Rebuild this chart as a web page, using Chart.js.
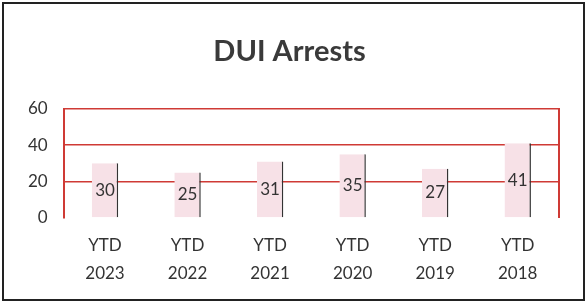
<!DOCTYPE html>
<html>
<head>
<meta charset="utf-8">
<script src="https://cdn.jsdelivr.net/npm/chart.js@4"></script>
<style>
  html, body { margin: 0; padding: 0; background: #fff; }
  #wrap { position: absolute; left: 2px; top: 2px; width: 579px; height: 295px; border: 2px solid #222; }
</style>
</head>
<body>
<div id="wrap"><canvas id="duiChart"></canvas></div>
<script>
const categories = [['YTD', '2023'], ['YTD', '2022'], ['YTD', '2021'], ['YTD', '2020'], ['YTD', '2019'], ['YTD', '2018']];
const arrests = [30, 25, 31, 35, 27, 41];
const yTicks = [0, 20, 40, 60];

// values written in the middle of each bar
const barLabels = {
    id: 'barLabels',
    afterDatasetsDraw(chart) {
        const ctx = chart.ctx;
        const meta = chart.getDatasetMeta(0);
        ctx.save();
        ctx.font = '17px Lato, "Liberation Sans", sans-serif';
        ctx.fillStyle = '#333';
        ctx.textAlign = 'center';
        ctx.textBaseline = 'middle';
        meta.data.forEach(function(bar, i) {
            ctx.fillText(arrests[i], bar.x, (bar.y + bar.base) / 2);
        });
        ctx.restore();
    }
};

new Chart(document.getElementById('duiChart'), {
    type: 'bar',
    data: {
        labels: categories,
        datasets: [{
            label: 'DUI Arrests',
            data: arrests,
            backgroundColor: '#f7e1e7',
            borderColor: '#333',
            borderWidth: { right: 1.5, left: 0, top: 0, bottom: 0 },
            borderSkipped: false,
            barPercentage: 0.32,
            categoryPercentage: 1
        }]
    },
    options: {
        responsive: true,
        maintainAspectRatio: false,
        animation: false,
        layout: { padding: { left: 8, right: 16, top: 10, bottom: 5 } },
        plugins: {
            legend: { display: false },
            tooltip: { enabled: false },
            title: {
                display: true,
                text: 'DUI Arrests',
                color: '#3a3a3a',
                font: { family: 'Lato, "Liberation Sans", sans-serif', size: 29, weight: 'bold' },
                padding: { top: 20, bottom: 40 }
            }
        },
        scales: {
            x: {
                grid: { display: false },
                border: { display: false },
                ticks: {
                    color: '#333',
                    font: { family: 'Lato, "Liberation Sans", sans-serif', size: 17, lineHeight: 1.65 },
                    padding: 6
                }
            },
            y: {
                min: 0,
                max: 60,
                afterBuildTicks(axis) { axis.ticks = yTicks.map(v => ({ value: v })); },
                grid: {
                    color: ctx => ctx.tick && ctx.tick.value === 0 ? 'rgba(0,0,0,0)' : '#cf3a35',
                    lineWidth: 1.5,
                    drawTicks: false
                },
                border: { display: true, color: '#cf3a35', width: 2 },
                ticks: {
                    color: '#333',
                    font: { family: 'Lato, "Liberation Sans", sans-serif', size: 17 },
                    padding: 16
                }
            },
            y2: {
                position: 'right',
                min: 0,
                max: 60,
                grid: { display: false },
                border: { display: true, color: '#cf3a35', width: 2 },
                ticks: { display: false }
            }
        }
    },
    plugins: [barLabels]
});
</script>
</body>
</html>
